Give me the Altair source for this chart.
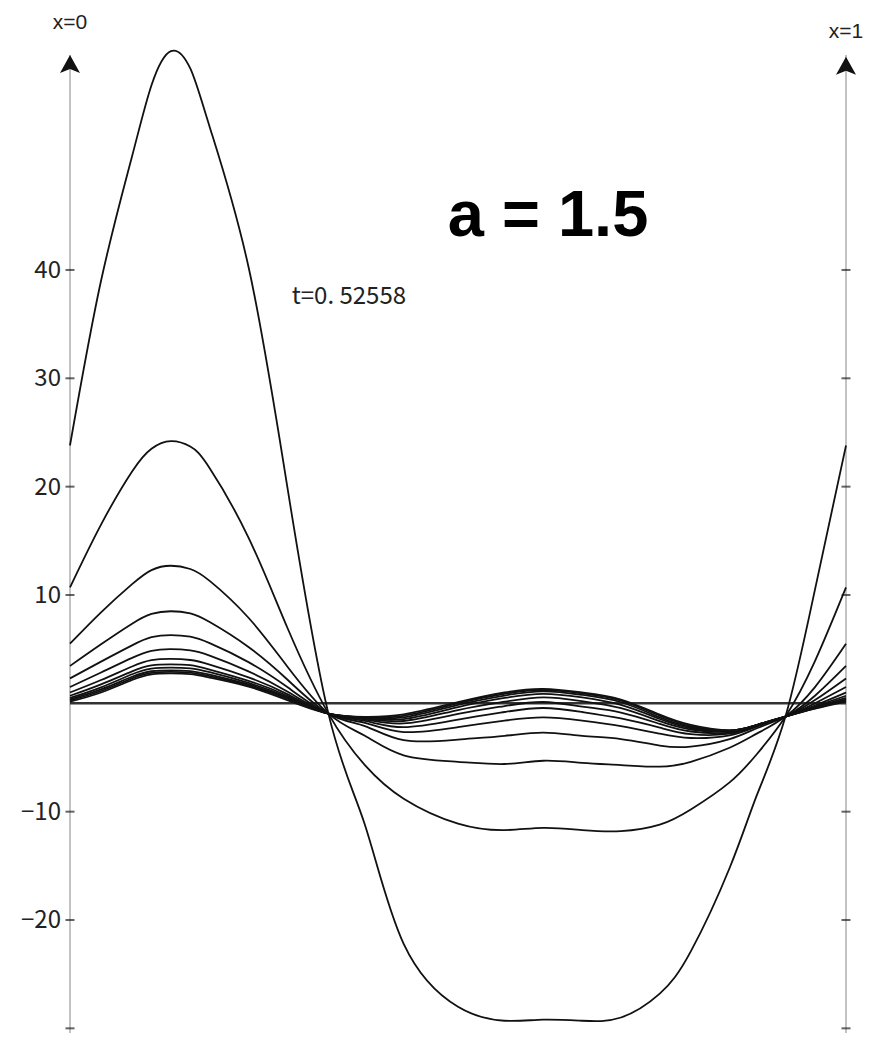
import altair as alt
import pandas as pd

# sample positions along the rod (0 = left end, 1 = right end)
XS = [0, 0.04, 0.08, 0.105, 0.13, 0.155, 0.18, 0.23, 0.28, 0.333, 0.38, 0.43, 0.5,
      0.56, 0.61, 0.66, 0.71, 0.76, 0.8, 0.85, 0.885, 0.922, 0.96, 1.0]

C1 = [23.8, 39.0, 50.5, 57.05, 60.2, 58.6, 53.2, 40.3, 20.0, -0.95, -11.2, -22.2, -28.0,
      -29.3, -29.2, -29.3, -29.0, -26.8, -22.9, -15.2, -8.5, -1.22, 10.5, 23.8]
C2 = [10.7, 16.5, 21.4, 23.5, 24.2, 23.7, 21.7, 15.3, 7.0, -0.95, -5.7, -8.8, -11.1,
      -11.7, -11.5, -11.7, -11.8, -11.2, -9.8, -7.3, -4.7, -1.22, 3.9, 10.7]
C3 = [5.5, 8.4, 11.0, 12.3, 12.7, 12.4, 11.3, 7.9, 3.4, -0.95, -3.0, -4.8, -5.4,
      -5.6, -5.3, -5.5, -5.7, -5.85, -5.4, -4.1, -2.8, -1.22, 1.5, 5.5]
C4 = [3.45, 5.45, 7.35, 8.25, 8.5, 8.3, 7.5, 5.2, 2.2, -0.95, -2.1, -3.4, -3.35,
      -3.0, -2.7, -3.0, -3.3, -3.9, -4.0, -3.3, -2.3, -1.22, 0.7, 3.45]
C5 = [2.3, 3.85, 5.35, 6.1, 6.3, 6.15, 5.55, 3.8, 1.5, -0.95, -1.8, -2.65, -2.2,
      -1.6, -1.3, -1.6, -2.1, -2.8, -3.2, -2.95, -2.15, -1.22, 0.3, 2.3]
C6 = [1.5, 2.85, 4.2, 4.85, 5.0, 4.88, 4.4, 2.95, 1.1, -0.95, -1.62, -2.2, -1.5,
      -0.8, -0.43, -0.8, -1.4, -2.25, -2.85, -2.8, -2.1, -1.22, 0.0, 1.5]
C7 = [1.0, 2.15, 3.4, 3.98, 4.1, 4.0, 3.58, 2.4, 0.85, -0.95, -1.5, -1.86, -0.98,
      -0.25, 0.12, -0.3, -0.85, -1.9, -2.6, -2.7, -2.05, -1.22, -0.2, 1.0]
C8 = [0.7, 1.75, 2.95, 3.5, 3.6, 3.52, 3.12, 2.08, 0.7, -0.95, -1.42, -1.63, -0.62,
      0.15, 0.55, 0.2, -0.45, -1.65, -2.42, -2.6, -2.02, -1.22, -0.3, 0.7]
C9 = [0.5, 1.48, 2.68, 3.2, 3.3, 3.22, 2.87, 1.88, 0.58, -0.95, -1.36, -1.46, -0.35,
      0.5, 0.88, 0.55, -0.15, -1.45, -2.3, -2.55, -2.0, -1.22, -0.38, 0.5]
C10 = [0.37, 1.28, 2.45, 2.96, 3.05, 2.98, 2.64, 1.74, 0.5, -0.95, -1.32, -1.3, -0.15,
       0.72, 1.1, 0.78, 0.1, -1.3, -2.2, -2.52, -2.0, -1.22, -0.43, 0.37]
C11 = [0.27, 1.14, 2.3, 2.81, 2.9, 2.83, 2.5, 1.64, 0.42, -0.95, -1.29, -1.15, 0.0,
       0.88, 1.22, 0.92, 0.25, -1.15, -2.1, -2.5, -2.0, -1.22, -0.47, 0.27]
C12 = [0.15, 1.0, 2.15, 2.68, 2.77, 2.7, 2.38, 1.55, 0.3, -0.95, -1.25, -1.02, 0.1,
       1.0, 1.32, 1.0, 0.35, -1.05, -2.0, -2.5, -2.0, -1.22, -0.5, 0.15]
CURVES = [C1, C2, C3, C4, C5, C6, C7, C8, C9, C10, C11, C12]

TICK_VALUES = [40, 30, 20, 10, -10, -20, -30]
TICK_LABELS = ["40", "30", "20", "10", "\u221210", "\u221220", ""]
AXIS_POS = [0, 1]
AXIS_NAMES = ["x=0", "x=1"]
PARAM_TEXT = "a = 1.5"
TIME_TEXT = "t=0. 52558"

Y_MIN, Y_MAX = -30.43, 64.18
ARROW_TIP = 59.85
ARROW_CENTER = 59.0

rows = [{"curve": i, "x": x, "y": y}
        for i, c in enumerate(CURVES) for x, y in zip(XS, c)]
df = pd.DataFrame(rows)

xs = alt.Scale(domain=[0, 1], nice=False, zero=False)
ys = alt.Scale(domain=[Y_MIN, Y_MAX], nice=False, zero=False)
LABEL_FONT = "Noto Sans CJK JP"

X = alt.X("x:Q", scale=xs, axis=None)
Y = alt.Y("y:Q", scale=ys, axis=None)

axis_df = pd.DataFrame({"x": AXIS_POS, "y": [Y_MIN, Y_MIN], "y2": [ARROW_TIP, ARROW_TIP]})
arrow_df = pd.DataFrame({"x": AXIS_POS, "y": [ARROW_CENTER, ARROW_CENTER - 0.15]})
name_df = pd.DataFrame({"x": [0.0, 1.0], "y": [62.25, 61.4], "name": AXIS_NAMES})
tick_df = pd.DataFrame([{"x": p, "y": v} for p in AXIS_POS for v in TICK_VALUES])
lab_df = pd.DataFrame({"x": [0] * len(TICK_VALUES), "y": TICK_VALUES, "label": TICK_LABELS})
zero_df = pd.DataFrame({"x": [0, 1], "y": [0, 0]})
param_df = pd.DataFrame({"x": [0.616], "y": [43.1], "label": [PARAM_TEXT]})
time_df = pd.DataFrame({"x": [0.2857], "y": [36.9], "label": [TIME_TEXT]})

axis_lines = alt.Chart(axis_df).mark_rule(color="#9a9a9a", strokeWidth=1.2).encode(
    x=X, y=Y, y2="y2:Q"
)

ARROW_PATH = "M0,-0.9 L1,0.9 L0,0.5 L-1,0.9 Z"
arrows = alt.Chart(arrow_df).mark_point(
    shape=ARROW_PATH, size=400, filled=True, color="#111111", opacity=1, strokeWidth=0
).encode(x=X, y=Y)

axis_names = alt.Chart(name_df).mark_text(
    font="Liberation Sans", fontSize=21, color="#222222", baseline="alphabetic"
).encode(x=X, y=Y, text="name:N")

ticks = alt.Chart(tick_df).mark_tick(
    orient="horizontal", size=9, thickness=2, color="#222222"
).encode(x=X, y=Y)

tick_labels = alt.Chart(lab_df).mark_text(
    font=LABEL_FONT, fontSize=24, color="#222222", align="right", baseline="middle", dx=-9, dy=1
).encode(x=X, y=Y, text="label:N")

zero_line = alt.Chart(zero_df).mark_line(color="#333333", strokeWidth=2.4).encode(x=X, y=Y)

lines = alt.Chart(df).mark_line(
    color="#111111", strokeWidth=1.8, interpolate="natural"
).encode(x=X, y=Y, detail="curve:N")

param = alt.Chart(param_df).mark_text(
    font="Liberation Sans", fontWeight="bold", fontSize=65, color="#000000",
    align="center", baseline="alphabetic"
).encode(x=X, y=Y, text="label:N")

time_lbl = alt.Chart(time_df).mark_text(
    font=LABEL_FONT, fontSize=24, color="#222222", align="left", baseline="alphabetic"
).encode(x=X, y=Y, text="label:N")

chart = alt.layer(
    axis_lines, ticks, tick_labels, zero_line, lines, arrows, axis_names, param, time_lbl
).properties(
    width=776, height=1025,
    autosize=alt.AutoSizeParams(type="none"),
    padding={"left": 62, "top": 0, "right": 21, "bottom": 0},
    background="white",
).configure_view(stroke=None)

chart.save("out.html", embed_options={"renderer": "svg", "actions": False})
